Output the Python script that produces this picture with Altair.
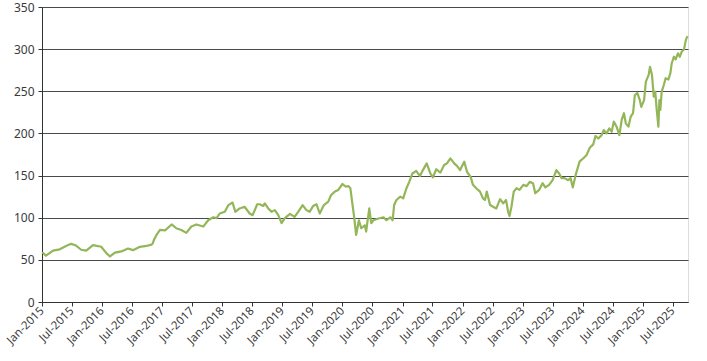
import altair as alt
import pandas as pd

dates = [
    "2015-01-02", "2015-01-25", "2015-03-09", "2015-04-19", "2015-05-27", "2015-06-27",
    "2015-07-27", "2015-08-27", "2015-09-27", "2015-11-07", "2015-12-27", "2016-01-27",
    "2016-02-18", "2016-03-19", "2016-04-27", "2016-06-07", "2016-07-07", "2016-08-18",
    "2016-09-27", "2016-10-27", "2016-11-04", "2016-11-12", "2016-11-27", "2016-12-18",
    "2017-01-18", "2017-02-27", "2017-03-27", "2017-04-27", "2017-05-27", "2017-06-27",
    "2017-07-27", "2017-09-07", "2017-10-07", "2017-11-07", "2017-11-27", "2017-12-16",
    "2018-01-16", "2018-02-07", "2018-03-04", "2018-03-21", "2018-04-16", "2018-05-16",
    "2018-06-16", "2018-07-04", "2018-08-01", "2018-08-16", "2018-09-07", "2018-09-16",
    "2018-10-07", "2018-10-27", "2018-11-16", "2018-12-07", "2018-12-27", "2019-01-16",
    "2019-02-16", "2019-03-16", "2019-04-07", "2019-05-04", "2019-05-27", "2019-06-16",
    "2019-07-07", "2019-07-27", "2019-08-16", "2019-09-10", "2019-10-07", "2019-10-24",
    "2019-11-16", "2019-12-07", "2020-01-01", "2020-01-21", "2020-02-07", "2020-02-18",
    "2020-03-01", "2020-03-12", "2020-03-24", "2020-04-10", "2020-04-24", "2020-05-16",
    "2020-05-24", "2020-06-12", "2020-06-24", "2020-07-07", "2020-08-07", "2020-09-07",
    "2020-09-24", "2020-10-18", "2020-11-01", "2020-11-10", "2020-11-24", "2020-12-18",
    "2021-01-04", "2021-01-24", "2021-02-10", "2021-03-01", "2021-03-24", "2021-04-16",
    "2021-05-04", "2021-05-27", "2021-06-18", "2021-07-04", "2021-07-24", "2021-08-18",
    "2021-09-10", "2021-09-27", "2021-10-18", "2021-11-10", "2021-11-27", "2021-12-16",
    "2022-01-10", "2022-01-27", "2022-02-18", "2022-03-04", "2022-03-24", "2022-04-16",
    "2022-05-04", "2022-05-16", "2022-05-27", "2022-06-16", "2022-07-04", "2022-07-24",
    "2022-08-16", "2022-09-04", "2022-09-21", "2022-10-04", "2022-10-12", "2022-10-24",
    "2022-11-07", "2022-11-24", "2022-12-12", "2023-01-04", "2023-01-24", "2023-02-12",
    "2023-03-04", "2023-03-18", "2023-04-10", "2023-05-01", "2023-05-18", "2023-06-10",
    "2023-07-01", "2023-07-24", "2023-08-10", "2023-08-24", "2023-09-12", "2023-10-04",
    "2023-10-18", "2023-11-01", "2023-11-18", "2023-12-12", "2024-01-04", "2024-01-24",
    "2024-02-12", "2024-03-04", "2024-03-18", "2024-04-04", "2024-04-24", "2024-05-07",
    "2024-05-24", "2024-06-10", "2024-06-24", "2024-07-07", "2024-07-24", "2024-08-10",
    "2024-08-24", "2024-09-07", "2024-09-18", "2024-10-04", "2024-10-18", "2024-11-01",
    "2024-11-12", "2024-11-27", "2024-12-12", "2024-12-21", "2025-01-07", "2025-01-18",
    "2025-02-04", "2025-02-12", "2025-02-24", "2025-03-07", "2025-03-16", "2025-03-24",
    "2025-04-04", "2025-04-10", "2025-04-16", "2025-04-24", "2025-05-07", "2025-05-18",
    "2025-06-04", "2025-06-16", "2025-06-24", "2025-07-07", "2025-07-18", "2025-08-01",
    "2025-08-12", "2025-08-24", "2025-09-07", "2025-09-18", "2025-09-28",
]

values = [
    59, 55, 61, 62.5, 66.5, 69,
    67, 62, 61, 67.5, 65.5, 58,
    54, 58.5, 60, 63.5, 61.5, 65.5,
    66.5, 68, 69.5, 74, 79.5, 85.5,
    85, 92, 87.5, 85.5, 82, 89.5,
    92, 89.5, 97, 100.5, 99.5, 105,
    107, 115, 118, 107, 111, 113,
    105, 103, 116, 116, 114, 117,
    111, 107, 109, 103, 93.5, 99.5,
    104.5, 101, 107, 115, 109, 107,
    114, 116, 105, 115, 119, 127,
    131, 133, 140, 137, 137.5, 135,
    117, 101, 79.5, 97, 87.5, 91,
    83.5, 111, 93.5, 97, 99, 100.5,
    97, 100.5, 97, 115, 121, 125,
    123, 135, 142.5, 152.5, 155.5, 149.5,
    156.5, 164.5, 152.5, 148, 157.5, 153.5,
    162.5, 164.5, 170.5, 164.5, 161.5, 156.5,
    166.5, 154.5, 148.5, 139, 135, 131,
    123, 121, 131, 115, 113, 111,
    122, 117, 121, 107, 102, 113,
    131, 135, 133, 139, 137.5, 142.5,
    141, 129, 133, 141, 136, 139,
    144.5, 156.5, 152.5, 147, 147, 144.5,
    147, 136, 150.5, 166.5, 170.5, 174.5,
    183, 187, 197, 194, 198, 204,
    200, 206, 202, 214, 208, 198,
    216, 224, 212, 208, 220, 224,
    245.5, 248, 239.5, 231.5, 239.5, 261.5,
    269.5, 279, 269.5, 243.5, 249.5, 230,
    208, 239.5, 228, 249.5, 257.5, 265.5,
    264, 271.5, 283, 291, 288, 295,
    291, 297, 300, 311, 315.5,
]

y_ticks = [0, 50, 100, 150, 200, 250, 300, 350]
tick_years = list(range(2015, 2026))

df = pd.DataFrame({"date": dates, "value": values})

x_tick_values = []
for yr in tick_years:
    x_tick_values.append(alt.DateTime(year=yr, month=1, date=1, utc=True))
    x_tick_values.append(alt.DateTime(year=yr, month=7, date=1, utc=True))

FONT = "Noto Sans"
TXT = "#3a3a3a"

chart = alt.Chart(df).mark_line(
    color="#93b658", strokeWidth=2.2, strokeJoin="round"
).encode(
    x=alt.X(
        "date:T",
        scale=alt.Scale(
            type="utc",
            domain=[
                alt.DateTime(year=2015, month=1, date=1, utc=True),
                alt.DateTime(year=2025, month=10, date=1, utc=True),
            ],
            nice=False,
        ),
        axis=alt.Axis(
            title=None,
            values=x_tick_values,
            labelExpr="utcFormat(datum.value, '%b-%Y')",
            labelAngle=-45,
            labelAlign="right",
            labelBaseline="middle",
            labelFont=FONT,
            labelFontSize=11.5,
            labelColor=TXT,
            labelPadding=3,
            labelOverlap=False,
            labelFlush=False,
            tickColor="#333333",
            tickSize=4,
            domainColor="#333333",
            domainWidth=1,
            grid=False,
        ),
    ),
    y=alt.Y(
        "value:Q",
        scale=alt.Scale(domain=[0, 350], nice=False, zero=True),
        axis=alt.Axis(
            title=None,
            values=y_ticks,
            labelFont=FONT,
            labelFontSize=12,
            labelColor=TXT,
            labelPadding=4,
            tickColor="#333333",
            tickSize=4,
            domainColor="#333333",
            domainWidth=1,
            grid=True,
            gridColor="#4a4a4a",
            gridWidth=1,
        ),
    ),
).properties(
    width=646,
    height=295,
    autosize=alt.AutoSizeParams(type="none"),
    padding={"left": 42, "top": 7, "right": 19, "bottom": 59},
).configure_view(
    stroke="#8c8c8c", strokeWidth=1
).configure(background="white")

chart.save("out.html", embed_options={"renderer": "svg", "actions": False})
